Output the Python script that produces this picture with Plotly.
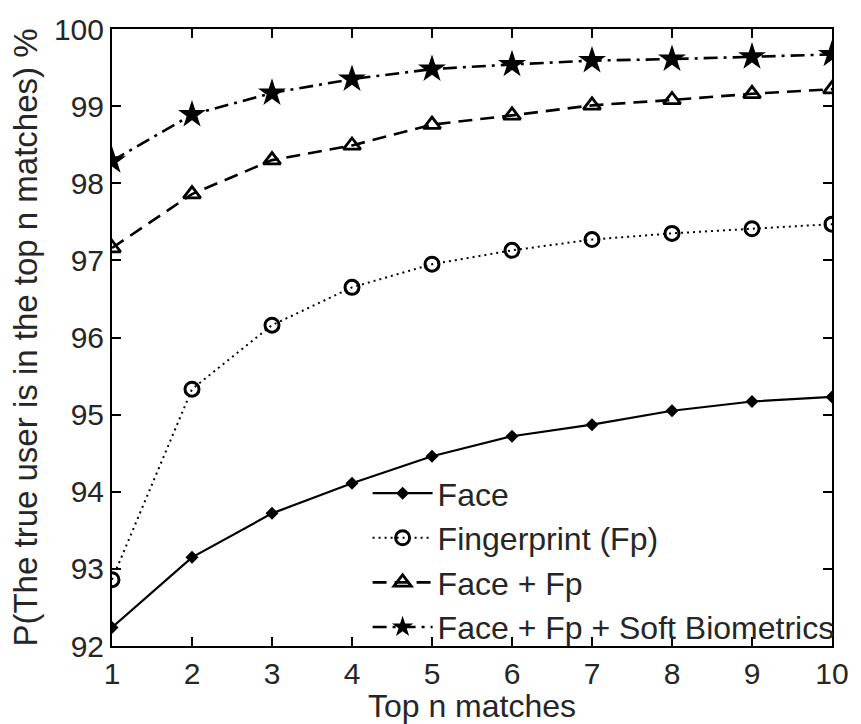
import plotly.graph_objects as go

top_n = [1, 2, 3, 4, 5, 6, 7, 8, 9, 10]
face = [92.24, 93.15, 93.72, 94.11, 94.46, 94.72, 94.87, 95.05, 95.17, 95.23]
fingerprint = [92.86, 95.33, 96.16, 96.65, 96.95, 97.13, 97.27, 97.35, 97.41, 97.47]
face_fp = [97.16, 97.86, 98.30, 98.49, 98.76, 98.88, 99.01, 99.08, 99.16, 99.22]
face_fp_soft = [98.29, 98.89, 99.17, 99.35, 99.48, 99.54, 99.59, 99.61, 99.64, 99.67]
x_ticks = [1, 2, 3, 4, 5, 6, 7, 8, 9, 10]
y_ticks = [92, 93, 94, 95, 96, 97, 98, 99, 100]

FONT = "Liberation Sans, Arial, sans-serif"
TXT = "#262626"

fig = go.Figure()
fig.add_trace(go.Scatter(
    x=top_n, y=face, name="Face", mode="lines+markers",
    line=dict(color="black", width=2.2, dash="solid"),
    marker=dict(symbol="diamond", size=10, color="black"),
))
fig.add_trace(go.Scatter(
    x=top_n, y=fingerprint, name="Fingerprint (Fp)", mode="lines+markers",
    line=dict(color="black", width=2, dash="2px,4px"),
    marker=dict(symbol="circle-open", size=14, color="black", line=dict(width=3)),
))
fig.add_trace(go.Scatter(
    x=top_n, y=face_fp, name="Face + Fp", mode="lines+markers",
    line=dict(color="black", width=2.6, dash="14px,8px"),
    marker=dict(symbol="triangle-up-open", size=15, color="black", line=dict(width=2.8)),
))
fig.add_trace(go.Scatter(
    x=top_n, y=face_fp_soft, name="Face + Fp + Soft Biometrics", mode="lines+markers",
    line=dict(color="black", width=2.6, dash="14px,6px,3px,6px"),
    marker=dict(symbol="star", size=21, color="black"),
))

axis_common = dict(
    showline=True, linecolor="black", linewidth=2, mirror="ticks",
    ticks="inside", ticklen=9, tickwidth=1.5, tickcolor="black",
    showgrid=False, zeroline=False,
    tickfont=dict(family=FONT, size=30, color=TXT),
)

fig.update_layout(
    width=861, height=724,
    margin=dict(l=112, r=21, t=26, b=72),
    paper_bgcolor="white", plot_bgcolor="white",
    font=dict(family=FONT, color=TXT),
    xaxis=dict(
        range=[1, 10], tickvals=x_ticks,
        title=dict(text="Top n matches", font=dict(family=FONT, size=32, color=TXT), standoff=0),
        **axis_common,
    ),
    yaxis=dict(
        range=[92, 100], tickvals=y_ticks,
        title=dict(text="P(The true user is in the top n matches) %", font=dict(family=FONT, size=33, color=TXT), standoff=6),
        **axis_common,
    ),
    legend=dict(
        x=0.355, y=0.292, xanchor="left", yanchor="top",
        bgcolor="rgba(255,255,255,0)", borderwidth=0,
        font=dict(family=FONT, size=32, color=TXT),
        itemwidth=60, tracegroupgap=0,
    ),
)

fig.write_html("out.html")
